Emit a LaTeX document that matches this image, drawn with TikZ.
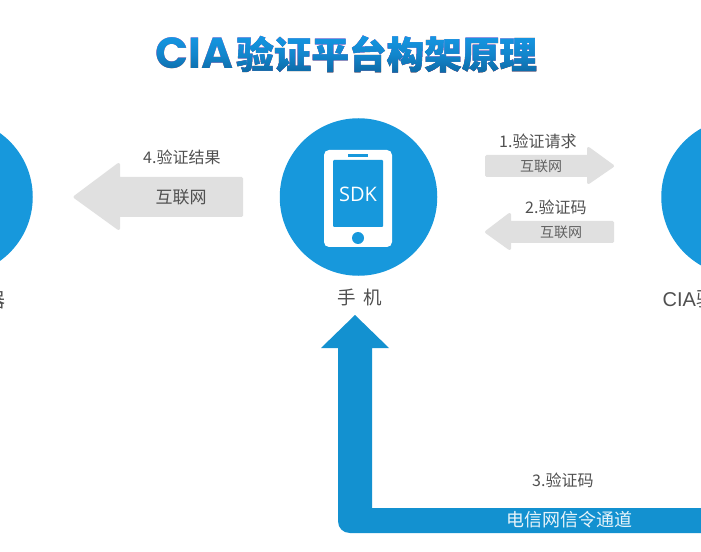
\documentclass[tikz,border=0pt]{standalone}
\usepackage{fontspec}
\setmainfont{Liberation Sans}
\newfontfamily\cjk{Noto Sans CJK SC}
\newfontfamily\cjkt[BoldFeatures={FakeBold=1.3}]{Noto Sans CJK SC}
\newfontfamily\wide{Poppins}
\newfontfamily\sdkfont{Open Sans}
\usetikzlibrary{calc}
\definecolor{circ}{HTML}{1798DC}
\definecolor{chan}{HTML}{1391D0}
\definecolor{grayarr}{HTML}{E0E0E0}
\definecolor{ink}{HTML}{505050}
\definecolor{titletop}{HTML}{1596E2}
\definecolor{titlemid}{HTML}{1285CB}
\definecolor{titlebot}{HTML}{0D67A2}
\tikzset{
  hub/.style={circle,fill=circ,draw=none,inner sep=0pt,minimum size=157.5bp},
  grayshape/.style={fill=grayarr,draw=grayarr,line width=3bp,line join=round},
  lab/.style={font=\cjk\fontsize{16bp}{18bp}\selectfont,text=ink,inner sep=0pt},
  net/.style={font=\cjk\fontsize{14bp}{16bp}\selectfont,text=ink!90,inner sep=0pt},
  netbig/.style={font=\cjk\fontsize{17bp}{19bp}\selectfont,text=ink,inner sep=0pt},
}
\begin{document}
\begin{tikzpicture}[x=1bp,y=-1bp]
\useasboundingbox (0,0) rectangle (701,552);
\clip (0,0) rectangle (701,552);
\fill[white] (0,0) rectangle (701,552);
% hubs
\node[hub] (left) at (-46,197) {};
\node[hub] (phone) at (358.5,197) {};
\node[hub] (right) at (740,197) {};
% phone icon
\fill[white,rounded corners=5bp] (324,150) rectangle (392,247);
\fill[circ,rounded corners=1bp] (333,160) rectangle (383,227);
\fill[circ] (348,154) rectangle (368,157);
\fill[circ] (358,238) circle (6bp);
\node[text=white,inner sep=0pt,font=\sdkfont\fontsize{20bp}{22bp}\selectfont] (sdk) at (358,194) {SDK};
% gray arrows
\path[grayshape] (241.5,178.5) -- (118.5,178.5) -- (118.5,164.5) -- (75,197) -- (118.5,228.5) -- (118.5,215.5) -- (241.5,215.5) -- cycle;
\path[grayshape] (486.5,156.5) -- (588.5,156.5) -- (588.5,148.5) -- (612.5,166) -- (588.5,182.5) -- (588.5,175.5) -- (486.5,175.5) -- cycle;
\path[grayshape] (612.5,222.5) -- (509.5,222.5) -- (509.5,214.5) -- (486.5,232) -- (509.5,248.5) -- (509.5,241.5) -- (612.5,241.5) -- cycle;
% blue channel
\fill[chan] (355,315) -- (389,348) -- (372,348) -- (372,508) -- (701,508) -- (701,533) -- (350,533) .. controls (343,533) and (338,528) .. (338,521) -- (338,348) -- (321,348) -- cycle;
% labels
\node[lab,anchor=west] (l4) at (143,157) {4.验证结果};
\node[netbig] (n4) at (181,197) {互联网};
\node[lab,anchor=west] (l1) at (499,141) {1.验证请求};
\node[net] (n1) at (541,166) {互联网};
\node[lab,anchor=west] (l2) at (525,207) {2.验证码};
\node[net] (n2) at (561,232) {互联网};
\node[lab,anchor=west] (l3) at (532,480) {3.验证码};
\node[font=\cjk\fontsize{18bp}{20bp}\selectfont,text=white!90!chan,inner sep=0pt] (ch) at (569,520) {电信网信令通道};
\node[font=\cjk\fontsize{18.5bp}{20bp}\selectfont,text=ink,inner sep=0pt] (mob) at (359.5,297) {手\hspace{0.4em}机};
\node[font=\cjk\fontsize{20bp}{22bp}\selectfont,text=ink,inner sep=0pt,anchor=east] (srv) at (6,300) {器};
\node[font=\fontsize{20bp}{22bp}\selectfont,text=ink,inner sep=0pt,anchor=west] (cia) at (662.5,299) {CIA{\cjk 验}};
% title
\node[anchor=west,inner sep=0pt,text=black] (title) at (155,54) {\resizebox{78bp}{!}{\wide\bfseries CIA}\hspace{3bp}\cjkt\bfseries\fontsize{37.6bp}{40bp}\selectfont 验证平台构架原理};
\begin{scope}[blend mode=lighten]
\shade[top color=titletop,bottom color=titlebot,middle color=titlemid] (150,36) rectangle (545,74);
\end{scope}
\end{tikzpicture}
\end{document}
